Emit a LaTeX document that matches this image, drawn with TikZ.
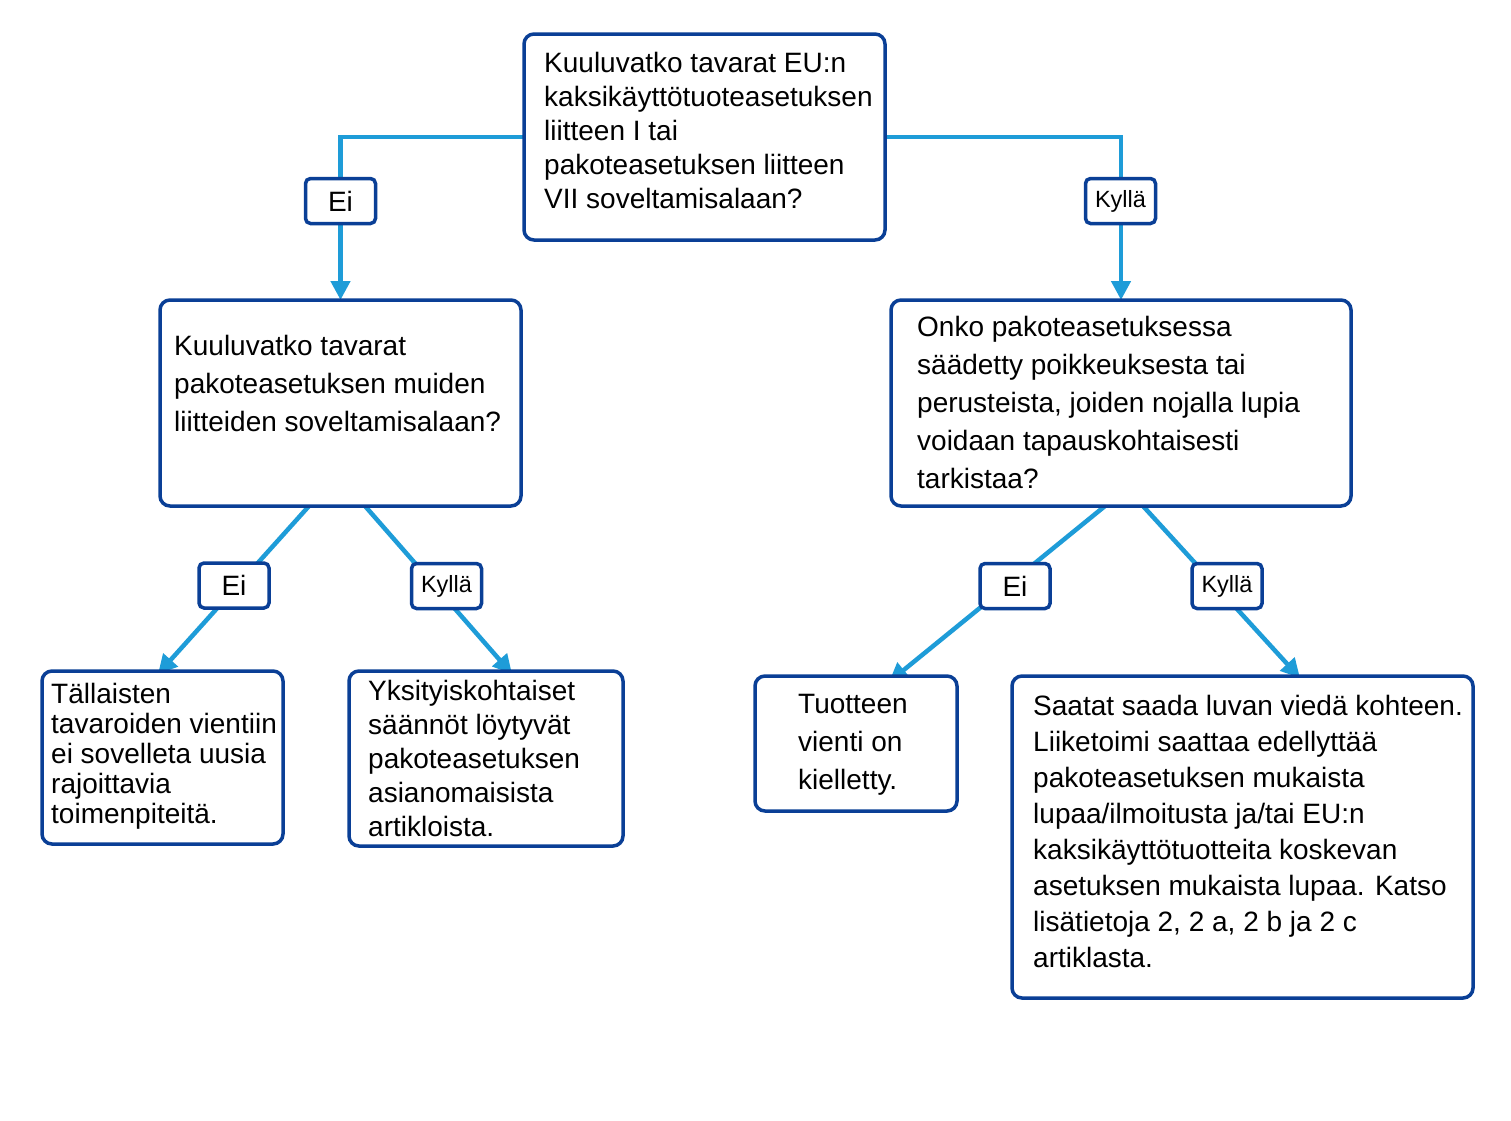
\documentclass[tikz,border=0pt]{standalone}
\usepackage{fontspec}
\setmainfont{Liberation Sans}
\usetikzlibrary{arrows.meta,backgrounds}
\definecolor{dkblue}{HTML}{0A3F96}
\definecolor{ltblue}{HTML}{1E9CD8}
\pgfdeclarelayer{paper}
\pgfsetlayers{paper,background,main}
\begin{document}
\begin{tikzpicture}[x=1pt,y=-1pt,
  box/.style={draw=dkblue,line width=3.5pt,rounded corners=10pt,fill=white,inner sep=0pt,outer sep=0pt},
  lbl/.style={draw=dkblue,line width=3.5pt,rounded corners=5pt,fill=white,inner sep=0pt,outer sep=0pt,minimum width=70pt,minimum height=45pt},
  txt/.style={anchor=north west,inner sep=0pt,align=left},
  conn/.style={draw=ltblue,line width=4.5pt},
  arr/.style={conn,-{Triangle[length=19pt,width=19pt]}}]
\begin{pgfonlayer}{paper}
\fill[white] (0,0) rectangle (1511,1120);
\end{pgfonlayer}
\useasboundingbox (0,0) rectangle (1511,1120);
% boxes
\node[box,anchor=north west,minimum width=361pt,minimum height=206pt] (top) at (524,34) {};
\node[box,anchor=north west,minimum width=361pt,minimum height=206pt] (q1) at (160,300) {};
\node[box,anchor=north west,minimum width=460pt,minimum height=206pt] (q2) at (891,300) {};
\node[box,anchor=north west,minimum width=241pt,minimum height=173pt] (b1) at (42,671) {};
\node[box,anchor=north west,minimum width=274pt,minimum height=175pt] (b2) at (349,671) {};
\node[box,anchor=north west,minimum width=202pt,minimum height=135pt] (b3) at (755,676) {};
\node[box,anchor=north west,minimum width=461pt,minimum height=322pt] (b4) at (1012,676) {};
% texts
\node[txt,font=\fontsize{28}{34}\selectfont] (ttop) at (544,50) {\rule{0pt}{22pt}Kuuluvatko tavarat EU:n\\kaksikäyttötuoteasetuksen\\liitteen I tai\\pakoteasetuksen liitteen\\VII soveltamisalaan?};
\node[txt,font=\fontsize{28}{38}\selectfont] (tq1) at (174,333) {\rule{0pt}{22pt}Kuuluvatko tavarat\\pakoteasetuksen muiden\\liitteiden soveltamisalaan?};
\node[txt,font=\fontsize{28}{38}\selectfont] (tq2) at (917,314) {\rule{0pt}{22pt}Onko pakoteasetuksessa\\säädetty poikkeuksesta tai\\perusteista, joiden nojalla lupia\\voidaan tapauskohtaisesti\\tarkistaa?};
\node[txt,font=\fontsize{28}{30}\selectfont] (tb1) at (51,681) {\rule{0pt}{22pt}Tällaisten\\tavaroiden vientiin\\ei sovelleta uusia\\rajoittavia\\toimenpiteitä.};
\node[txt,font=\fontsize{28}{34}\selectfont] (tb2) at (368,678) {\rule{0pt}{22pt}Yksityiskohtaiset\\säännöt löytyvät\\pakoteasetuksen\\asianomaisista\\artikloista.};
\node[txt,font=\fontsize{28}{38}\selectfont] (tb3) at (798,691) {\rule{0pt}{22pt}Tuotteen\\vienti on\\kielletty.};
\node[txt,font=\fontsize{28}{36}\selectfont] (tb4) at (1033,693) {\rule{0pt}{22pt}Saatat saada luvan viedä kohteen.\\Liiketoimi saattaa edellyttää\\pakoteasetuksen mukaista\\lupaa/ilmoitusta ja/tai EU:n\\kaksikäyttötuotteita koskevan\\asetuksen mukaista lupaa. Katso\\lisätietoja 2, 2 a, 2 b ja 2 c\\artiklasta.};
% labels
\node[lbl,font=\fontsize{28}{34}\selectfont] (l1) at (340.5,201) {Ei};
\node[lbl,font=\fontsize{23.5}{28}\selectfont] (l2) at (1120.5,201) {Kyllä};
\node[lbl,font=\fontsize{28}{34}\selectfont] (l3) at (234,585.5) {Ei};
\node[lbl,font=\fontsize{23.5}{28}\selectfont] (l4) at (446.5,586) {Kyllä};
\node[lbl,font=\fontsize{28}{34}\selectfont] (l5) at (1015,586) {Ei};
\node[lbl,font=\fontsize{23.5}{28}\selectfont] (l6) at (1227,586) {Kyllä};
% connectors
\begin{pgfonlayer}{background}
\draw[arr] (top.west) -| (q1.north);
\draw[arr] (top.east) -| (q2.north);
\draw[arr] ([xshift=-31.5pt]q1.south) -- ([xshift=-4.5pt,yshift=-3pt]b1.north);
\draw[arr] ([xshift=24.5pt]q1.south) -- ([xshift=26pt,yshift=-3pt]b2.north);
\draw[arr] ([xshift=-16pt]q2.south) -- ([xshift=33pt,yshift=-6pt]b3.north);
\draw[arr] ([xshift=22pt]q2.south) -- ([xshift=57.5pt,yshift=-2pt]b4.north);
\end{pgfonlayer}
\end{tikzpicture}
\end{document}
